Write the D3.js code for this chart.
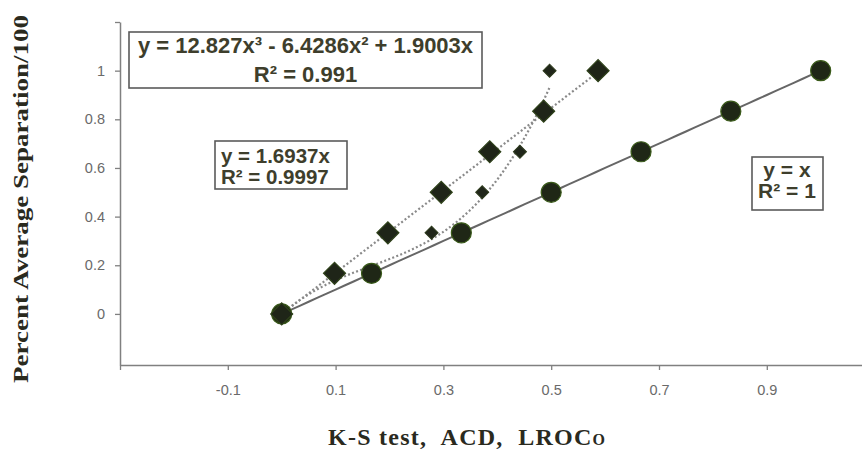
<!DOCTYPE html>
<html><head><meta charset="utf-8">
<script src="https://cdn.jsdelivr.net/npm/d3@7"></script>
<style>html,body{margin:0;padding:0;background:#fff;} svg{display:block;}</style>
</head><body>
<svg id="chart" width="862" height="449"></svg>
<script>
// ---- data ----
const sepLevels = [0, 0.1667, 0.3333, 0.5, 0.6667, 0.8333, 1];
const ksX   = [0, 0.1667, 0.3333, 0.5, 0.6667, 0.8333, 1];       // circles
const acdX  = [0, 0.098, 0.197, 0.296, 0.386, 0.486, 0.587];     // large diamonds
const lrocX = [0, 0.163, 0.278, 0.372, 0.442, 0.484, 0.497];     // small diamonds
const ksFit = [1];                          // y = x
const acdFit = [1.6937];                    // y = 1.6937x
const lrocFit = [12.827, -6.4286, 1.9003];  // y = a x^3 + b x^2 + c x
const xTickValues = [-0.3, -0.1, 0.1, 0.3, 0.5, 0.7, 0.9];
const xTickLabels = ["", "-0.1", "0.1", "0.3", "0.5", "0.7", "0.9"];
const yTickValues = [0, 0.2, 0.4, 0.6, 0.8, 1, 1.2];
const yTickLabels = ["0", "0.2", "0.4", "0.6", "0.8", "1", ""];
const eqCubic = ["y = 12.827x³ - 6.4286x² + 1.9003x", "R² = 0.991"];
const eqLinear = ["y = 1.6937x", "R² = 0.9997"];
const eqIdentity = ["y = x", "R² = 1"];
const yTitle = "Percent Average Separation/100";
const xTitleMain = "K-S test,  ACD,  LROC";
const xTitleSub = "O";

// ---- layout ----
const svg = d3.select("#chart");
const x = d3.scaleLinear().domain([-0.3, 1.1]).range([120, 874.6]);
const y = d3.scaleLinear().domain([-0.21, 1.2]).range([365, 22]);
const axisColor = "#808080";
const sans = "'Liberation Sans', Arial, sans-serif";
const serif = "'Liberation Serif', 'Times New Roman', serif";

// x axis
const xa = svg.append("g").attr("transform", `translate(0,${y(-0.21)})`)
  .call(d3.axisBottom(x).tickValues(xTickValues)
    .tickFormat((d,i) => xTickLabels[i]).tickSize(5).tickSizeOuter(0).tickPadding(15));
// y axis
const ya = svg.append("g").attr("transform", `translate(${x(-0.3)},0)`)
  .call(d3.axisLeft(y).tickValues(yTickValues)
    .tickFormat((d,i) => yTickLabels[i]).tickSize(5).tickSizeOuter(0).tickPadding(10));
[xa, ya].forEach(g => {
  g.select(".domain").attr("stroke", axisColor).attr("stroke-width", 1.5);
  g.selectAll(".tick line").attr("stroke", axisColor).attr("stroke-width", 1.3);
  g.selectAll(".tick text").attr("fill", "#6a6a6a").style("font-family", sans).style("font-size", "14.5px");
});

// ---- trendlines ----
function sampleLine(maxX, f) {
  const n = 60;
  return d3.range(n + 1).map(i => { const xv = maxX * i / n; return [xv, f(xv)]; });
}
const line = d3.line().x(d => x(d[0])).y(d => y(d[1]));
const ksLine = sampleLine(d3.max(ksX), v => ksFit[0] * v);
const acdLine = sampleLine(d3.max(acdX), v => acdFit[0] * v);
const lrocLine = sampleLine(d3.max(lrocX), v => lrocFit[0]*v*v*v + lrocFit[1]*v*v + lrocFit[2]*v);

svg.append("path").attr("d", line(ksLine)).attr("fill", "none")
  .attr("stroke", "#666").attr("stroke-width", 2);
svg.append("path").attr("d", line(acdLine)).attr("fill", "none")
  .attr("stroke", "#8a8a8a").attr("stroke-width", 2.2).attr("stroke-dasharray", "2,2.3");
svg.append("path").attr("d", line(lrocLine)).attr("fill", "none")
  .attr("stroke", "#8a8a8a").attr("stroke-width", 2.2).attr("stroke-dasharray", "2,2.3");

// ---- markers ----
const smallDiamond = d3.symbol(d3.symbolSquare).size(85)();
const bigDiamond = d3.symbol(d3.symbolSquare).size(242)();
svg.append("g").selectAll("path").data(lrocX).join("path")
  .attr("d", smallDiamond)
  .attr("transform", (d,i) => `translate(${x(d)},${y(sepLevels[i])}) rotate(45)`)
  .attr("fill", "#20261a").attr("stroke", "#2d3a1c").attr("stroke-width", 1);
svg.append("g").selectAll("circle").data(ksX).join("circle")
  .attr("cx", d => x(d)).attr("cy", (d,i) => y(sepLevels[i])).attr("r", 10)
  .attr("fill", "#1f2716").attr("stroke", "#3a5a1a").attr("stroke-width", 1.2);
svg.append("g").selectAll("path").data(acdX).join("path")
  .attr("d", bigDiamond)
  .attr("transform", (d,i) => `translate(${x(d)},${y(sepLevels[i])}) rotate(45)`)
  .attr("fill", "#1f2518").attr("stroke", "#2f421a").attr("stroke-width", 1.2);

// ---- equation boxes ----
function eqBox(bx, by, bw, bh, lines, tx, baselines, anchor, size) {
  svg.append("rect").attr("x", bx).attr("y", by).attr("width", bw).attr("height", bh)
    .attr("fill", "#fff").attr("stroke", "#5a5a5a").attr("stroke-width", 1.6);
  lines.forEach((t, i) => {
    svg.append("text").attr("x", tx).attr("y", baselines[i]).attr("text-anchor", anchor)
      .style("font-family", sans).style("font-weight", "bold").style("font-size", size + "px")
      .attr("fill", "#3e3e2c").text(t);
  });
}
eqBox(129, 32, 353, 56, eqCubic, 305.5, [53, 82], "middle", 22);
eqBox(215, 141, 132, 48, eqLinear, 221, [163, 184], "start", 20.5);
eqBox(752, 157, 71, 53, eqIdentity, 787, [177, 198], "middle", 21);

// ---- axis titles ----
svg.append("text")
  .attr("transform", "translate(28,199) rotate(-90)")
  .attr("text-anchor", "middle")
  .attr("textLength", 368).attr("lengthAdjust", "spacingAndGlyphs")
  .style("font-family", serif).style("font-weight", "bold").style("font-size", "22px")
  .attr("fill", "#2a2a1e").text(yTitle);

const xt = svg.append("text").attr("x", 328).attr("y", 445)
  .attr("textLength", 277).attr("lengthAdjust", "spacing")
  .style("font-family", serif).style("font-weight", "bold").style("font-size", "24px")
  .style("white-space", "pre").attr("fill", "#2a2a1e");
xt.append("tspan").text(xTitleMain);
xt.append("tspan").style("font-size", "16px").text(xTitleSub);
</script>
</body></html>
